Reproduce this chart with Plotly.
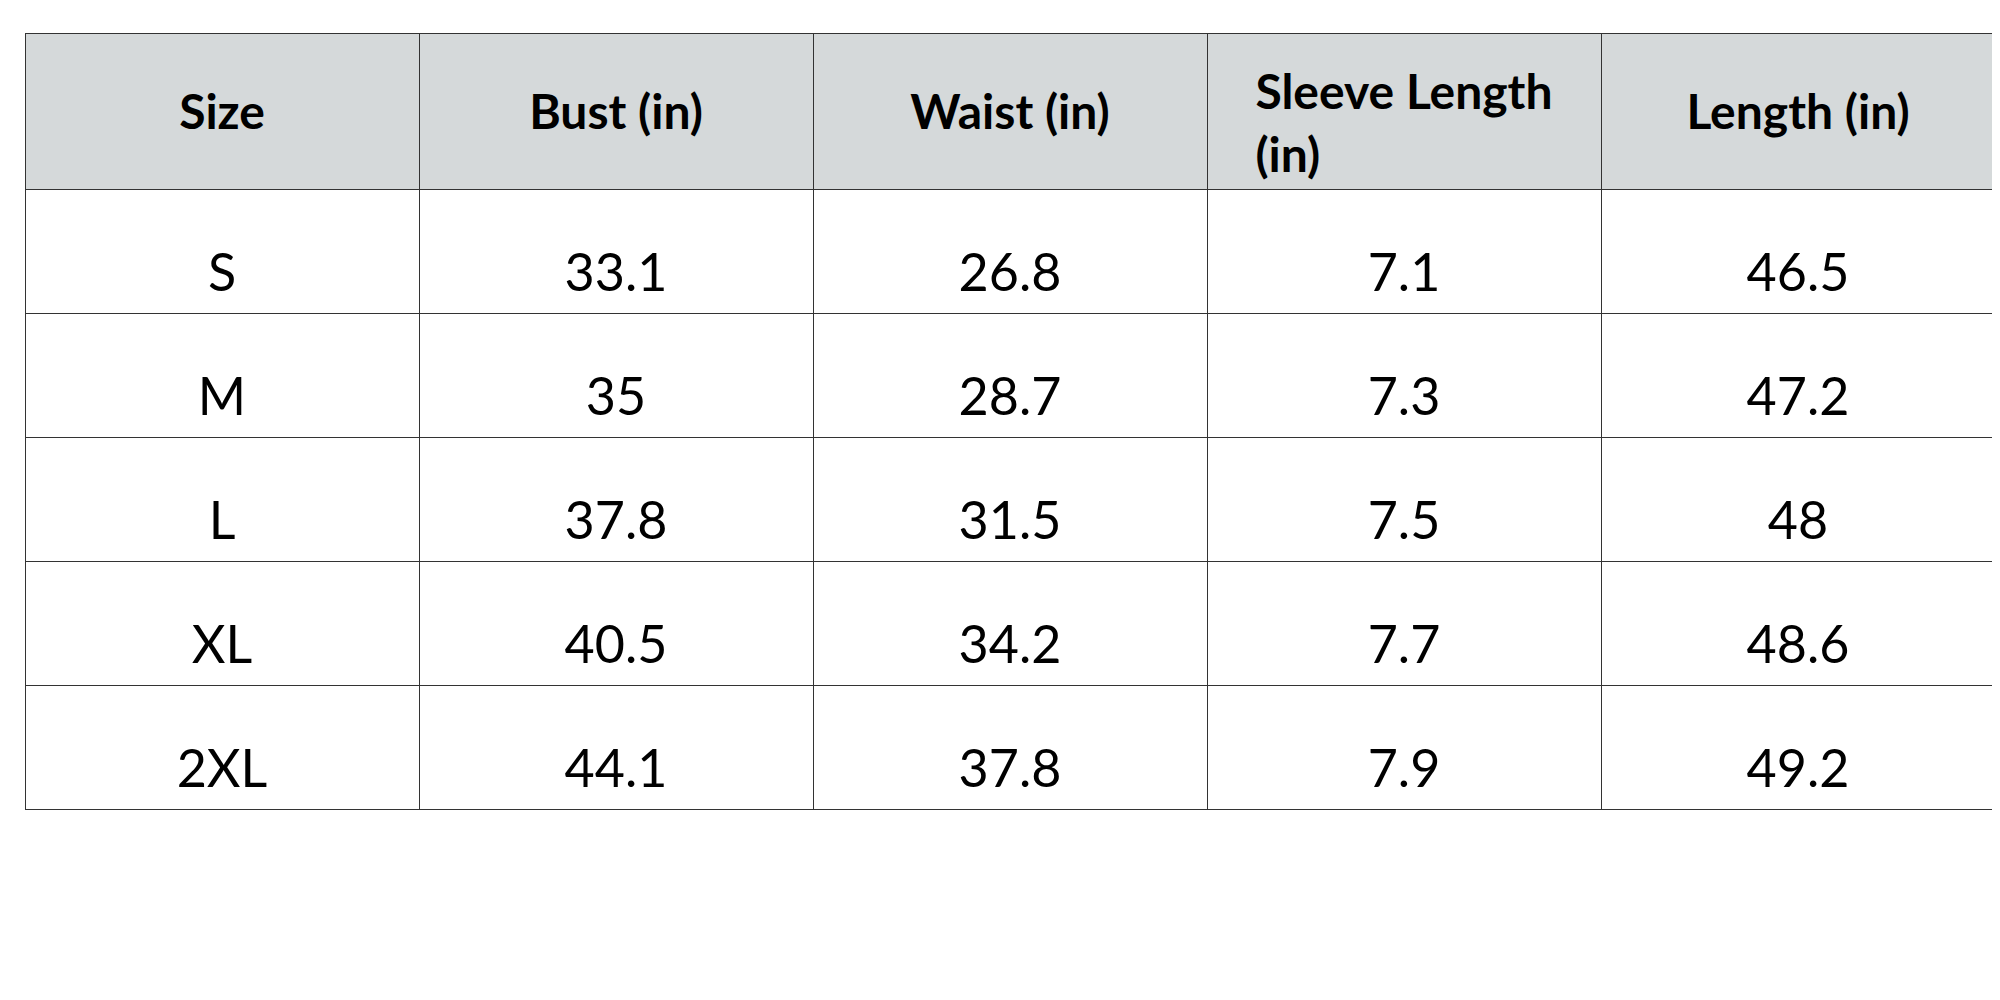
import plotly.graph_objects as go

# Data
headers = ["Size", "Bust (in)", "Waist (in)", "Sleeve Length<br>(in)", "Length (in)"]
sizes = ["S", "M", "L", "XL", "2XL"]
bust = ["33.1", "35", "37.8", "40.5", "44.1"]
waist = ["26.8", "28.7", "31.5", "34.2", "37.8"]
sleeve = ["7.1", "7.3", "7.5", "7.7", "7.9"]
length = ["46.5", "47.2", "48", "48.6", "49.2"]

# small spacer line to push text toward the vertical middle of each cell
SP = "<span style='font-size:26px'> </span><br>"
SP_SMALL = "<span style='font-size:6px'> </span><br>"


def pad(vals, spacer):
    return [spacer + v for v in vals]


head_vals = [
    (SP_SMALL if "<br>" in h else SP) + f"<b>{h}</b>" for h in headers
]

fig = go.Figure(
    go.Table(
        columnwidth=[1, 1, 1, 1, 1],
        header=dict(
            values=head_vals,
            fill_color="#d5d9da",
            line=dict(color="#333333", width=1),
            align="center",
            height=125,
            font=dict(family="Lato", size=48, color="black"),
        ),
        cells=dict(
            values=[pad(sizes, SP), pad(bust, SP), pad(waist, SP),
                    pad(sleeve, SP), pad(length, SP)],
            fill_color="white",
            line=dict(color="#333333", width=1),
            align="center",
            height=124,
            font=dict(family="Lato", size=52, color="black"),
        ),
    )
)

fig.update_layout(
    width=2000,
    height=1000,
    margin=dict(l=17, r=13, t=25, b=0),
    paper_bgcolor="white",
)

fig.write_html("out.html")
